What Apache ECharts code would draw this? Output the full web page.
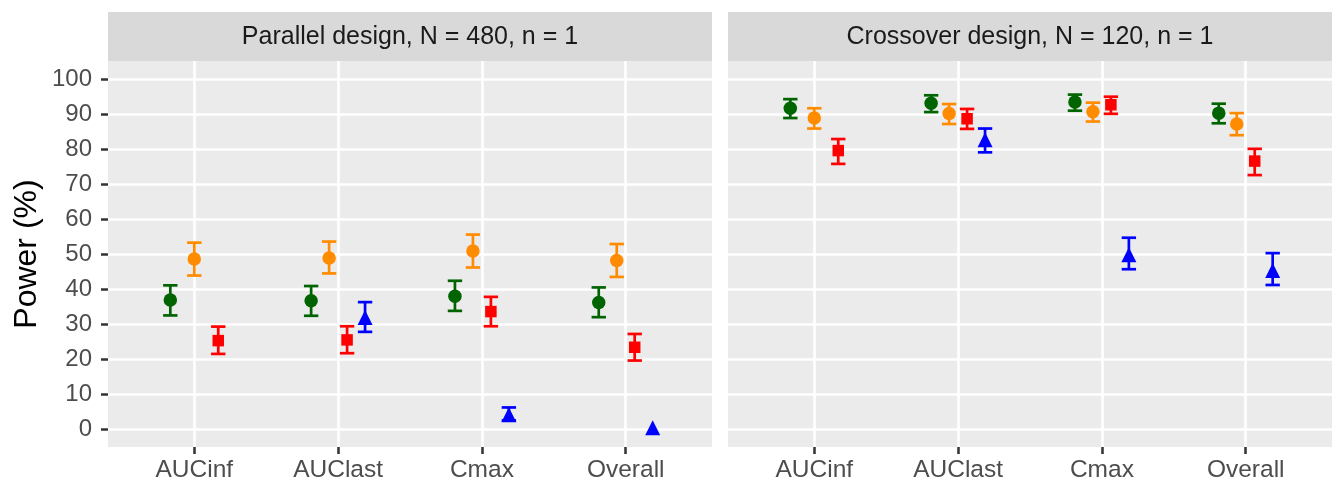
<!DOCTYPE html>
<html>
<head>
<meta charset="utf-8">
<script src="https://cdn.jsdelivr.net/npm/echarts@6/dist/echarts.min.js"></script>
<style>
html,body{margin:0;padding:0;background:#fff;}
#chart{width:1341px;height:483px;}
</style>
</head>
<body>
<div id="chart"></div>
<script>
const categories = ['AUCinf', 'AUClast', 'Cmax', 'Overall'];
const yTicks = [0, 10, 20, 30, 40, 50, 60, 70, 80, 90, 100];
const panelTitles = ['Parallel design, N = 480, n = 1', 'Crossover design, N = 120, n = 1'];

// Parallel design
const parGreen = [36.9, 36.7, 38.0, 36.2];
const parGreenLo = [32.5, 32.4, 33.8, 32.0];
const parGreenHi = [41.1, 40.9, 42.4, 40.5];
const parOrange = [48.6, 48.9, 50.9, 48.2];
const parOrangeLo = [43.9, 44.5, 46.2, 43.5];
const parOrangeHi = [53.3, 53.6, 55.6, 52.9];
const parRed = [25.3, 25.5, 33.6, 23.4];
const parRedLo = [21.5, 21.7, 29.4, 19.6];
const parRedHi = [29.3, 29.4, 37.8, 27.2];
const parBlue = [null, 31.9, 4.1, 0.4];
const parBlueLo = [null, 27.8, 2.5, null];
const parBlueHi = [null, 36.3, 6.2, null];

// Crossover design
const croGreen = [91.7, 93.1, 93.5, 90.3];
const croGreenLo = [88.9, 90.6, 91.0, 87.4];
const croGreenHi = [94.3, 95.4, 95.6, 93.0];
const croOrange = [88.9, 90.2, 90.7, 87.2];
const croOrangeLo = [85.9, 87.2, 87.9, 84.0];
const croOrangeHi = [91.7, 92.9, 93.3, 90.3];
const croRed = [79.6, 88.7, 92.7, 76.6];
const croRedLo = [75.8, 85.8, 90.1, 72.6];
const croRedHi = [82.9, 91.5, 95.0, 80.1];
const croBlue = [null, 82.7, 49.8, 45.3];
const croBlueLo = [null, 79.1, 45.7, 41.2];
const croBlueHi = [null, 85.9, 54.7, 50.3];

const groupStyles = [
  { color: '#006400', symbol: 'circle', size: 13.5 },
  { color: '#FF8C00', symbol: 'circle', size: 13.5 },
  { color: '#FF0000', symbol: 'rect', size: 11.5 },
  { color: '#0000FF', symbol: 'triangle', size: 15 }
];

const panels = [
  { est: [parGreen, parOrange, parRed, parBlue], lo: [parGreenLo, parOrangeLo, parRedLo, parBlueLo], hi: [parGreenHi, parOrangeHi, parRedHi, parBlueHi] },
  { est: [croGreen, croOrange, croRed, croBlue], lo: [croGreenLo, croOrangeLo, croRedLo, croBlueLo], hi: [croGreenHi, croOrangeHi, croRedHi, croBlueHi] }
];

const dodgeWidth = 0.5;
const capHalf = 0.05;
const FONT = '"Liberation Sans", Arial, sans-serif';

const gridLefts = [108, 728];
const gridW = 604, gridTop = 61, gridH = 386;

const grids = [], xAxes = [], yAxes = [], series = [], graphics = [];

panels.forEach((p, pi) => {
  grids.push({ left: gridLefts[pi], top: gridTop, width: gridW, height: gridH, show: true, backgroundColor: '#EBEBEB', borderWidth: 0 });
  xAxes.push({
    type: 'value', gridIndex: pi, min: -0.6, max: 3.6,
    axisLine: { show: false, onZero: false },
    axisTick: { show: true, customValues: [0, 1, 2, 3], length: 7, lineStyle: { color: '#333333', width: 2.5 } },
    axisLabel: { customValues: [0, 1, 2, 3], formatter: v => categories[Math.round(v)], color: '#4D4D4D', fontSize: 24.5, fontFamily: FONT, margin: 11 },
    splitLine: { show: true, lineStyle: { color: '#FFFFFF', width: 2.6 } }
  });
  yAxes.push({
    type: 'value', gridIndex: pi, min: -5.1, max: 105.2,
    name: pi === 0 ? 'Power (%)' : '', nameLocation: 'middle', nameRotate: 90, nameGap: 65,
    nameTextStyle: { color: '#000000', fontSize: 32, fontFamily: FONT },
    axisLine: { show: false, onZero: false },
    axisTick: { show: pi === 0, customValues: yTicks, length: 7, lineStyle: { color: '#333333', width: 2.5 } },
    axisLabel: { show: pi === 0, customValues: yTicks, color: '#4D4D4D', fontSize: 24, fontFamily: FONT, margin: 16 },
    splitLine: { show: true, lineStyle: { color: '#FFFFFF', width: 2.6 } }
  });
  graphics.push({ type: 'rect', shape: { x: gridLefts[pi], y: 12, width: gridW, height: 49 }, style: { fill: '#D9D9D9' } });
  graphics.push({ type: 'text', x: gridLefts[pi] + gridW / 2, y: 37, style: { text: panelTitles[pi], fill: '#1A1A1A', font: '25px ' + FONT, textAlign: 'center', textVerticalAlign: 'middle' } });

  // dodge positions
  const xs = groupStyles.map(() => []);
  categories.forEach((c, ci) => {
    const present = [];
    p.est.forEach((arr, gi) => { if (arr[ci] !== null) present.push(gi); });
    const n = present.length;
    present.forEach((gi, k) => { xs[gi][ci] = ci + (k - (n - 1) / 2) * (dodgeWidth / n); });
  });

  groupStyles.forEach((g, gi) => {
    const ebData = [], ptData = [];
    categories.forEach((c, ci) => {
      if (p.est[gi][ci] === null) return;
      if (p.lo[gi][ci] !== null) ebData.push([xs[gi][ci], p.lo[gi][ci], p.hi[gi][ci]]);
      ptData.push([xs[gi][ci], p.est[gi][ci]]);
    });
    series.push({
      type: 'custom', xAxisIndex: pi, yAxisIndex: pi, z: 2,
      encode: { x: 0, y: [1, 2] },
      data: ebData,
      renderItem: (params, api) => {
        const x = api.value(0), lo = api.value(1), hi = api.value(2);
        const a = api.coord([x, lo]), b = api.coord([x, hi]);
        const hw = api.coord([x + capHalf, lo])[0] - a[0];
        const st = { stroke: g.color, lineWidth: 2.7 };
        return { type: 'group', children: [
          { type: 'line', shape: { x1: a[0], y1: a[1], x2: b[0], y2: b[1] }, style: st },
          { type: 'line', shape: { x1: a[0] - hw, y1: a[1], x2: a[0] + hw, y2: a[1] }, style: st },
          { type: 'line', shape: { x1: b[0] - hw, y1: b[1], x2: b[0] + hw, y2: b[1] }, style: st }
        ] };
      }
    });
    series.push({
      type: 'scatter', xAxisIndex: pi, yAxisIndex: pi, z: 3,
      symbol: g.symbol, symbolSize: g.size,
      itemStyle: { color: g.color, opacity: 1 },
      data: ptData
    });
  });
});

const chart = echarts.init(document.getElementById('chart'), null, { renderer: 'canvas' });
chart.setOption({
  animation: false,
  backgroundColor: '#FFFFFF',
  grid: grids, xAxis: xAxes, yAxis: yAxes, series: series, graphic: graphics
});
</script>
</body>
</html>
